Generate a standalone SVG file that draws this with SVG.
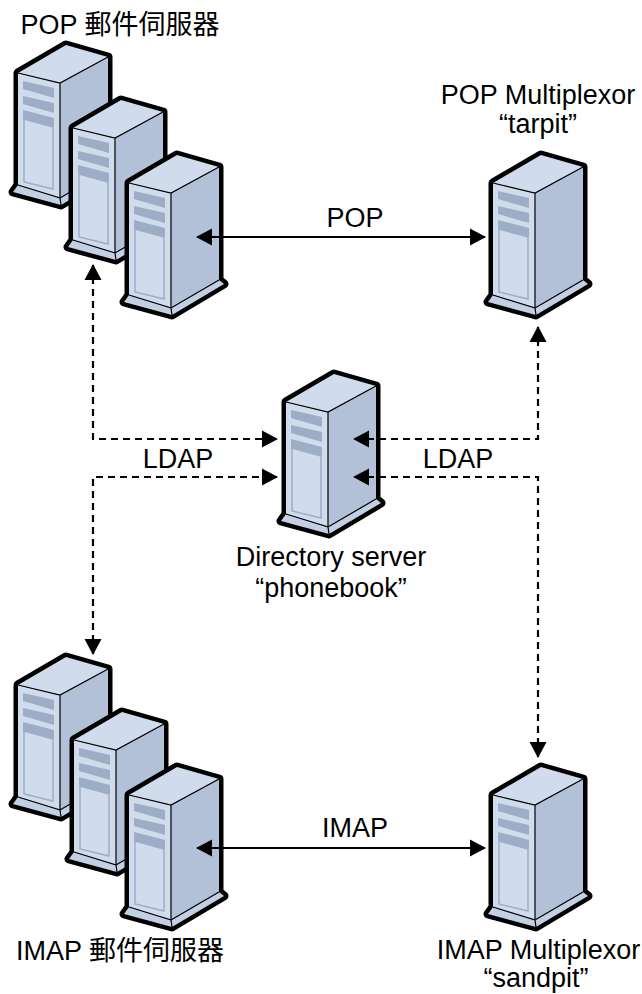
<svg xmlns="http://www.w3.org/2000/svg" width="642" height="994" viewBox="0 0 642 994">
<style>
text{font-family:"Liberation Sans","Noto Sans CJK SC",sans-serif;font-size:27px;fill:#000;text-anchor:middle}
.c{fill:none;stroke:#000;stroke-width:2.2}
.d{stroke-dasharray:7 5}
</style>
<defs>
<marker id="a" markerUnits="userSpaceOnUse" markerWidth="18" markerHeight="18" refX="15" refY="9" orient="auto-start-reverse"><path d="M0 0.5L16 9L0 17.5Z" fill="#000"/></marker>
<symbol id="srv" overflow="visible" width="110" height="140">
<path d="M0 0L48-28L90-16L90 97L95 101L43 132L-5 119L0 112Z" fill="#000" stroke="#000" stroke-width="9" stroke-linejoin="round"/>
<path d="M0 0L48-28L90-16L42 10Z" fill="#d0dbeb"/>
<path d="M42 10L90-16L90 97L42 125Z" fill="#b3c1d8"/>
<path d="M0 0L42 10L42 125L0 112Z" fill="#d0dbeb"/>
<path d="M0 112L42 125L43 132L-5 119Z" fill="#c3d0e4"/>
<path d="M42 125L90 97L95 101L43 132Z" fill="#c3d0e4"/>
<path d="M0 0L42 10L90-16M42 10L42 125L90 97M0 112L42 125L43 132" fill="none" stroke="#000" stroke-width="1.2"/>
<path d="M5 8L36 15V25L5 16ZM5 23L36 30V40L5 31ZM5 37L36 45V54L5 46Z" fill="#9eadc6"/>
<path d="M6 46L35 54V116L6 109Z" fill="#d0dbeb" stroke="#9eadc6" stroke-width="1.5"/>
</symbol>
</defs>
<g id="pop-mail-servers">
<use href="#srv" x="18" y="73"/><use href="#srv" x="73" y="128"/><use href="#srv" x="129" y="183"/>
<text x="120" y="34">POP 郵件伺服器</text>
</g>
<g id="pop-multiplexor">
<use href="#srv" x="493" y="183"/>
<text x="538" y="104">POP Multiplexor</text><text x="538" y="133">“tarpit”</text>
</g>
<g id="directory-server">
<use href="#srv" x="286" y="402"/>
<text x="331" y="566">Directory server</text><text x="331" y="597">“phonebook”</text>
</g>
<g id="imap-mail-servers">
<use href="#srv" x="18" y="685"/><use href="#srv" x="74" y="740"/><use href="#srv" x="129" y="795"/>
<text x="120" y="960">IMAP 郵件伺服器</text>
</g>
<g id="imap-multiplexor">
<use href="#srv" x="493" y="795"/>
<text x="538.5" y="959">IMAP Multiplexor</text><text x="536" y="987">“sandpit”</text>
</g>
<g id="connectors">
<path class="c" d="M197 237H485" marker-start="url(#a)" marker-end="url(#a)"/>
<path class="c" d="M197 848H485" marker-start="url(#a)" marker-end="url(#a)"/>
<path class="c d" d="M93 265V439H277" marker-start="url(#a)" marker-end="url(#a)"/>
<path class="c d" d="M93 654V477H277" marker-start="url(#a)" marker-end="url(#a)"/>
<path class="c d" d="M538 327V439H354" marker-start="url(#a)" marker-end="url(#a)"/>
<path class="c d" d="M538 757V477H354" marker-start="url(#a)" marker-end="url(#a)"/>
</g>
<g id="labels">
<text x="355" y="227">POP</text><text x="355" y="837">IMAP</text>
<text x="178" y="468">LDAP</text><text x="458" y="468">LDAP</text>
</g>
</svg>
